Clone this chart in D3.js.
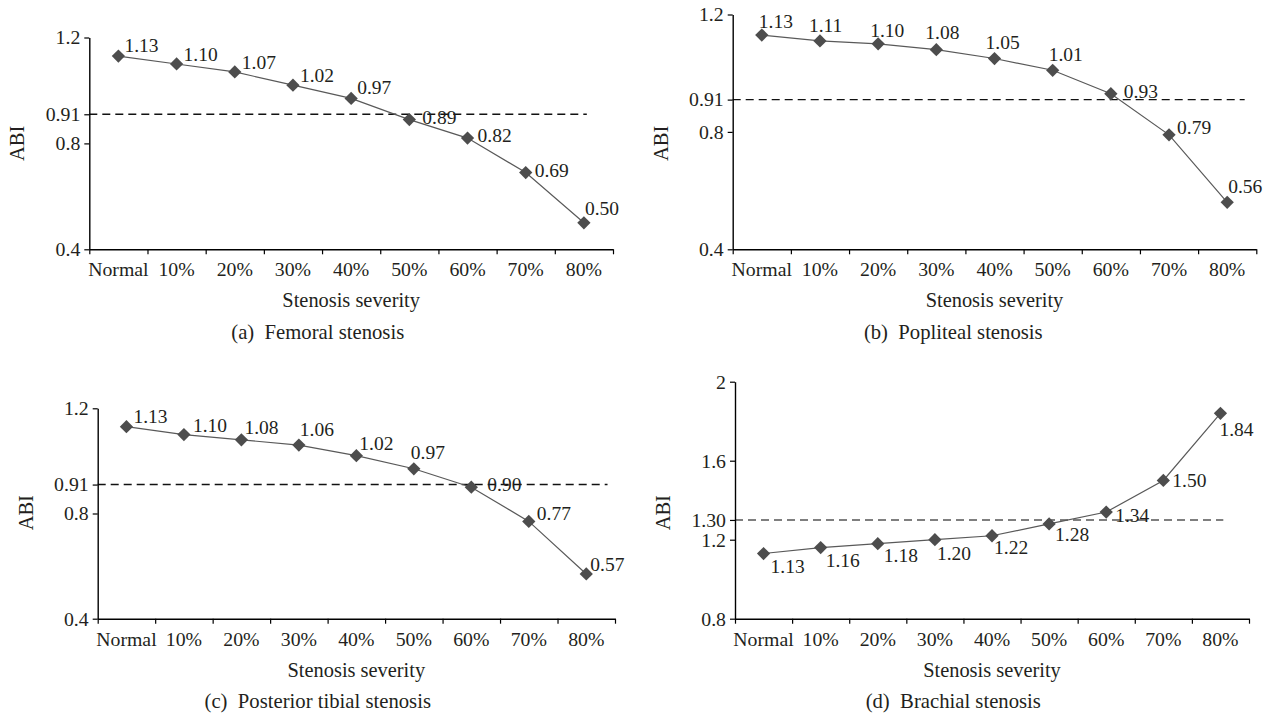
<!DOCTYPE html>
<html>
<head>
<meta charset="utf-8">
<script src="https://cdn.jsdelivr.net/npm/d3@7"></script>
<style>
  body { margin: 0; background: #fff; }
  svg text { font-family: "Liberation Serif", "Times New Roman", serif; fill: #231f20; }
</style>
</head>
<body>
<div class="canvas"></div>
<script>
// stenosis severity categories (shared by the four panels)
const categories = ["Normal", "10%", "20%", "30%", "40%", "50%", "60%", "70%", "80%"];

// ABI values per panel
const femoralAbi   = [1.13, 1.10, 1.07, 1.02, 0.97, 0.89, 0.82, 0.69, 0.50];
const poplitealAbi = [1.13, 1.11, 1.10, 1.08, 1.05, 1.01, 0.93, 0.79, 0.56];
const tibialAbi    = [1.13, 1.10, 1.08, 1.06, 1.02, 0.97, 0.90, 0.77, 0.57];
const brachialAbi  = [1.13, 1.16, 1.18, 1.20, 1.22, 1.28, 1.34, 1.50, 1.84];

// y tick values and labels
const legTicks = [0.4, 0.8, 0.91, 1.2];
const legTickLabels = ["0.4", "0.8", "0.91", "1.2"];
const armTicks = [0.8, 1.2, 1.30, 1.6, 2];
const armTickLabels = ["0.8", "1.2", "1.30", "1.6", "2"];

// dashed threshold lines
const thresholds = [0.91, 0.91, 0.91, 1.30];

const captions = ["(a)  Femoral stenosis", "(b)  Popliteal stenosis",
                  "(c)  Posterior tibial stenosis", "(d)  Brachial stenosis"];

// label nudges [dx, dy] from each point (layout only)
const nudgeA = [[6,-4],[7,-3],[7,-3],[7,-3],[6,-4],[13,4],[10,4],[9,4],[1,-8]];
const nudgeB = [[-3,-7],[-11,-9],[-8,-7],[-11,-11],[-9,-10],[-4,-9],[13,4],[8,-1],[1,-9]];
const nudgeC = [[7,-4],[9,-3],[3,-6],[1,-9],[3,-6],[-3,-10],[16,4],[8,-1],[4,-3]];
const nudgeD = [[7,19],[5,19],[6,18],[2,20],[2,18],[6,17],[9,10],[9,7],[-1,23]];

const width = 1271;
const height = 725;

const panels = [
  { values: femoralAbi,   ticks: legTicks, tickLabels: legTickLabels, domain: [0.4, 1.2],
    left: 89.3, right: 613, bottom: 249.3, top: 37.5, dashEnd: 8.55, dashColor: "#111",
    capX: 317.75, nudge: nudgeA },
  { values: poplitealAbi, ticks: legTicks, tickLabels: legTickLabels, domain: [0.4, 1.2],
    left: 732.7, right: 1256.3, bottom: 249.3, top: 14.5, dashEnd: 8.8, dashColor: "#111",
    capX: 953.25, nudge: nudgeB },
  { values: tibialAbi,    ticks: legTicks, tickLabels: legTickLabels, domain: [0.4, 1.2],
    left: 97.7, right: 615, bottom: 618.7, top: 408.3, dashEnd: 8.87, dashColor: "#111",
    capX: 317.75, nudge: nudgeC },
  { values: brachialAbi,  ticks: armTicks, tickLabels: armTickLabels, domain: [0.8, 2],
    left: 735, right: 1249, bottom: 618.7, top: 381.7, dashEnd: 8.55, dashColor: "#555",
    capX: 953.25, nudge: nudgeD }
];

const svg = d3.select(".canvas").append("svg")
  .attr("width", width)
  .attr("height", height);

panels.forEach((p, i) => {
  const g = svg.append("g");

  const x = d3.scaleBand().domain(categories).range([p.left, p.right]).padding(0);
  const xEdge = d3.scaleLinear().domain([0, categories.length]).range([p.left, p.right]);
  const y = d3.scaleLinear().domain(p.domain).range([p.bottom, p.top]);

  // dashed threshold
  g.append("line")
    .attr("x1", xEdge(0))
    .attr("x2", xEdge(p.dashEnd))
    .attr("y1", y(thresholds[i]))
    .attr("y2", y(thresholds[i]))
    .attr("stroke", p.dashColor)
    .attr("stroke-width", 1.4)
    .attr("stroke-dasharray", "8,5");

  // x axis: tick marks on band edges, labels at band centres
  const gxTicks = g.append("g")
    .attr("transform", `translate(0,${p.bottom})`)
    .call(d3.axisBottom(xEdge).tickValues(d3.range(categories.length + 1))
      .tickFormat("").tickSize(5).tickSizeOuter(0));
  gxTicks.attr("color", "#000");
  gxTicks.select(".domain").attr("stroke-width", 1.4);
  gxTicks.selectAll(".tick line").attr("stroke-width", 1.2);

  const gxLabels = g.append("g")
    .attr("transform", `translate(0,${p.bottom})`)
    .call(d3.axisBottom(x).tickSize(0).tickPadding(13));
  gxLabels.select(".domain").remove();
  gxLabels.attr("font-family", null);
  gxLabels.selectAll("text").attr("font-size", 19.8);

  // y axis
  const gy = g.append("g")
    .attr("transform", `translate(${p.left},0)`)
    .call(d3.axisLeft(y).tickValues(p.ticks)
      .tickFormat((d, k) => p.tickLabels[k]).tickSize(5).tickPadding(4).tickSizeOuter(0));
  gy.attr("color", "#000").attr("font-family", null);
  gy.select(".domain").attr("stroke-width", 1.4);
  gy.selectAll(".tick line").attr("stroke-width", 1.2);
  gy.selectAll("text").attr("font-size", 19.8);

  // series line
  const pts = p.values.map((v, k) => ({ cat: categories[k], v: v, k: k }));
  const line = d3.line()
    .x(d => x(d.cat) + x.bandwidth() / 2)
    .y(d => y(d.v));

  g.append("path")
    .datum(pts)
    .attr("d", line)
    .attr("fill", "none")
    .attr("stroke", "#595959")
    .attr("stroke-width", 1.2);

  // diamond markers
  g.selectAll(".marker")
    .data(pts)
    .join("path")
    .attr("class", "marker")
    .attr("d", d3.symbol(d3.symbolSquare, 88))
    .attr("transform", d => `translate(${x(d.cat) + x.bandwidth() / 2},${y(d.v)}) rotate(45)`)
    .attr("fill", "#4d4d4d");

  // value labels
  g.selectAll(".val")
    .data(pts)
    .join("text")
    .attr("class", "val")
    .attr("x", d => x(d.cat) + x.bandwidth() / 2 + p.nudge[d.k][0])
    .attr("y", d => y(d.v) + p.nudge[d.k][1])
    .attr("font-size", 19.5)
    .text(d => d.v.toFixed(2));

  // axis titles
  g.append("text")
    .attr("transform", `translate(${p.left - 72},${p.bottom - 106}) rotate(-90)`)
    .attr("text-anchor", "middle")
    .attr("dominant-baseline", "central")
    .attr("font-size", 20.5)
    .text("ABI");

  g.append("text")
    .attr("x", (p.left + p.right) / 2)
    .attr("y", p.bottom + 58)
    .attr("text-anchor", "middle")
    .attr("font-size", 20.4)
    .text("Stenosis severity");

  // caption
  g.append("text")
    .attr("x", p.capX)
    .attr("y", p.bottom + 89.5)
    .attr("text-anchor", "middle")
    .attr("font-size", 20.7)
    .style("white-space", "pre")
    .text(captions[i]);
});
</script>
</body>
</html>
